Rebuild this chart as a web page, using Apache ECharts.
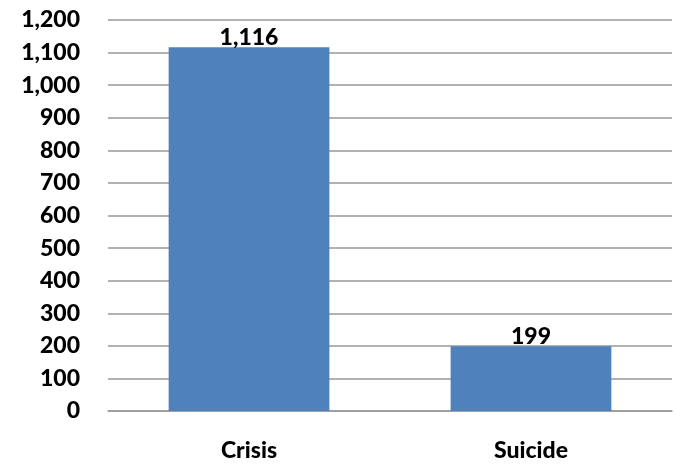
<!DOCTYPE html>
<html><head><meta charset="utf-8">
<script src="https://cdn.jsdelivr.net/npm/echarts@6/dist/echarts.min.js"></script>
<style>html,body{margin:0;padding:0;background:#fff}#c{width:678px;height:464px}</style>
</head><body><div id="c"></div>
<script>
const categories = ['Crisis', 'Suicide'];
const values = [1116, 199];
const yTicks = [0, 100, 200, 300, 400, 500, 600, 700, 800, 900, 1000, 1100, 1200];

const FONT = 'Lato, "Open Sans", sans-serif';
const chart = echarts.init(document.getElementById('c'));
chart.setOption({
  animation: false,
  grid: { left: 108, right: 6, top: 20, bottom: 53, containLabel: false },
  xAxis: {
    type: 'category', data: categories,
    axisLine: { lineStyle: { color: '#999', width: 1.5 } },
    axisTick: { show: false },
    axisLabel: { color: '#000', fontWeight: 900, fontSize: 23, fontFamily: FONT, margin: 28 }
  },
  yAxis: {
    type: 'value', min: yTicks[0], max: yTicks[yTicks.length - 1], interval: 100,
    axisLine: { show: false }, axisTick: { show: false },
    splitLine: { lineStyle: { color: '#999', width: 1.5 } },
    axisLabel: {
      color: '#000', fontWeight: 900, fontSize: 23, fontFamily: FONT, margin: 28,
      formatter: v => v.toLocaleString('en-US')
    }
  },
  series: [{
    type: 'bar', data: values, barWidth: '57%',
    itemStyle: { color: '#4f81bd' },
    label: {
      show: true, position: 'top', distance: -2, color: '#000', fontWeight: 900,
      fontSize: 23, fontFamily: FONT,
      formatter: p => p.value.toLocaleString('en-US')
    }
  }]
});
</script></body></html>
